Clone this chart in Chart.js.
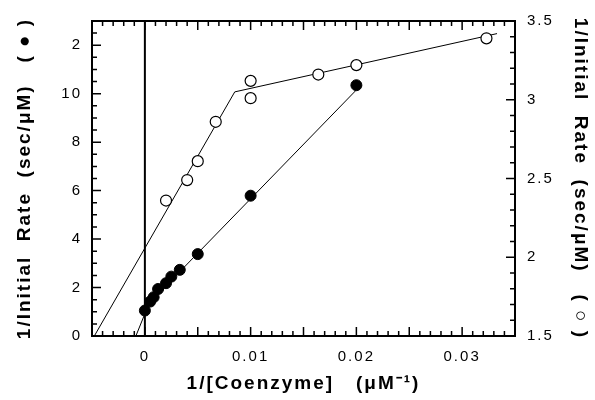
<!DOCTYPE html>
<html>
<head>
<meta charset="utf-8">
<script src="https://cdn.jsdelivr.net/npm/chart.js@4"></script>
<style>
  html, body { margin: 0; padding: 0; background: #fff; }
  #wrap { width: 595px; height: 400px; }
</style>
</head>
<body>
<div id="wrap"><canvas id="kinetics"></canvas></div>
<script>
// filled circles, left axis
const filledX = [0, 0.0005, 0.00083, 0.00125, 0.002, 0.0025, 0.0033, 0.005, 0.01, 0.02];
const filledY = [1.05, 1.42, 1.6, 1.94, 2.18, 2.45, 2.73, 3.38, 5.79, 10.35];
const filledFitX = [-0.00085, 0.0004, 0.0201];
const filledFitY = [0, 1.35, 10.2];

// open circles, right axis
const openX = [0.002, 0.004, 0.005, 0.0067, 0.01, 0.01, 0.0164, 0.02, 0.0323];
const openY = [2.36, 2.49, 2.61, 2.86, 3.12, 3.01, 3.16, 3.22, 3.39];
const openFitX = [-0.00478, 0.0085, 0.0333];
const openFitY = [1.5, 3.05, 3.42];

const xTickValues = [0, 0.01, 0.02, 0.03];
const yTickValues = [0, 2, 4, 6, 8, 10, 12];
const yTickLabels = ['0', '2', '4', '6', '8', '10', '2'];
const y1TickValues = [1.5, 2, 2.5, 3, 3.5];

function pts(xs, ys) {
    return xs.map((x, i) => ({ x: x, y: ys[i] }));
}

// the scanned figure uses wide letter spacing
const wideText = {
    id: 'wideText',
    beforeDraw(chart) {
        chart.ctx.letterSpacing = '2px';
    }
};

// frame + inward ticks like the original plot
const frameTicks = {
    id: 'frameTicks',
    afterDatasetsDraw(chart) {
        const ctx = chart.ctx;
        const a = chart.chartArea;
        const s = chart.scales;
        ctx.save();
        ctx.strokeStyle = '#000';
        ctx.lineWidth = 2;
        ctx.strokeRect(a.left, a.top, a.right - a.left, a.bottom - a.top);
        ctx.lineWidth = 1.5;
        ctx.beginPath();
        for (let i = -5; i <= 35; i++) {
            const px = s.x.getPixelForValue(i / 1000);
            const len = i % 5 === 0 ? 9 : 5;
            ctx.moveTo(px, a.bottom); ctx.lineTo(px, a.bottom - len);
            ctx.moveTo(px, a.top); ctx.lineTo(px, a.top + len);
        }
        for (let i = 0; i <= 26; i++) {
            const py = s.y.getPixelForValue(i / 2);
            const len = i % 4 === 0 ? 9 : 5;
            ctx.moveTo(a.left, py); ctx.lineTo(a.left + len, py);
        }
        for (let i = 15; i <= 35; i++) {
            const py = s.y1.getPixelForValue(i / 10);
            const len = i % 5 === 0 ? 9 : 5;
            ctx.moveTo(a.right, py); ctx.lineTo(a.right - len, py);
        }
        ctx.stroke();
        ctx.restore();
    }
};

const tickFont = { family: 'Liberation Sans', size: 15 };
const titleFont = { family: 'Liberation Sans', size: 19, weight: 'bold' };

new Chart(document.getElementById('kinetics'), {
    type: 'scatter',
    data: {
        datasets: [
            {
                label: 'filled',
                data: pts(filledX, filledY),
                yAxisID: 'y',
                pointRadius: 5.5,
                pointBackgroundColor: '#000',
                pointBorderColor: '#000',
                showLine: false
            },
            {
                label: 'filled fit',
                data: pts(filledFitX, filledFitY),
                yAxisID: 'y',
                pointRadius: 0,
                showLine: true,
                borderColor: '#000',
                borderWidth: 1
            },
            {
                label: 'open',
                data: pts(openX, openY),
                yAxisID: 'y1',
                pointRadius: 5.5,
                pointBackgroundColor: '#fff',
                pointBorderColor: '#000',
                pointBorderWidth: 1.2,
                showLine: false
            },
            {
                label: 'open fit',
                data: pts(openFitX, openFitY),
                yAxisID: 'y1',
                pointRadius: 0,
                showLine: true,
                borderColor: '#000',
                borderWidth: 1
            },
            {
                label: 'zero',
                data: [{ x: 0, y: 0 }, { x: 0, y: 13 }],
                yAxisID: 'y',
                pointRadius: 0,
                showLine: true,
                borderColor: '#000',
                borderWidth: 2
            }
        ]
    },
    options: {
        responsive: true,
        maintainAspectRatio: false,
        animation: false,
        layout: {
            padding: { left: 5, right: 3, top: 19, bottom: 5 }
        },
        plugins: {
            legend: { display: false },
            tooltip: { enabled: false }
        },
        scales: {
            x: {
                type: 'linear',
                min: -0.005,
                max: 0.035,
                afterBuildTicks: (axis) => { axis.ticks = xTickValues.map(v => ({ value: v })); },
                afterFit: (axis) => { axis.height = 59; },
                grid: { display: false, drawTicks: false },
                border: { display: false },
                ticks: {
                    color: '#000',
                    font: tickFont,
                    padding: 12,
                    maxRotation: 0,
                    callback: (v) => String(v)
                },
                title: {
                    display: true,
                    text: '1/[Coenzyme]   (\u03bcM\u207b\u00b9)',
                    color: '#000',
                    font: titleFont,
                    padding: { top: 6, bottom: 0 }
                }
            },
            y: {
                type: 'linear',
                position: 'left',
                min: 0,
                max: 13,
                afterBuildTicks: (axis) => { axis.ticks = yTickValues.map(v => ({ value: v })); },
                afterFit: (axis) => { axis.width = 87; },
                grid: { display: false, drawTicks: false },
                border: { display: false },
                ticks: {
                    color: '#000',
                    font: tickFont,
                    padding: 10,
                    callback: (v) => yTickLabels[yTickValues.indexOf(v)]
                },
                title: {
                    display: true,
                    text: '1/Initial  Rate  (sec/\u03bcM)   ( \u25cf )',
                    color: '#000',
                    font: titleFont,
                    padding: { top: 8, bottom: 8 }
                }
            },
            y1: {
                type: 'linear',
                position: 'right',
                min: 1.5,
                max: 3.5,
                afterBuildTicks: (axis) => { axis.ticks = y1TickValues.map(v => ({ value: v })); },
                afterFit: (axis) => { axis.width = 77; },
                grid: { display: false, drawTicks: false },
                border: { display: false },
                ticks: {
                    color: '#000',
                    font: tickFont,
                    padding: 12,
                    callback: (v) => String(v)
                },
                title: {
                    display: true,
                    text: '1/Initial  Rate  (sec/\u03bcM)   ( \u25cb )',
                    color: '#000',
                    font: titleFont,
                    padding: { top: 0, bottom: 8 }
                }
            }
        }
    },
    plugins: [wideText, frameTicks]
});
</script>
</body>
</html>
